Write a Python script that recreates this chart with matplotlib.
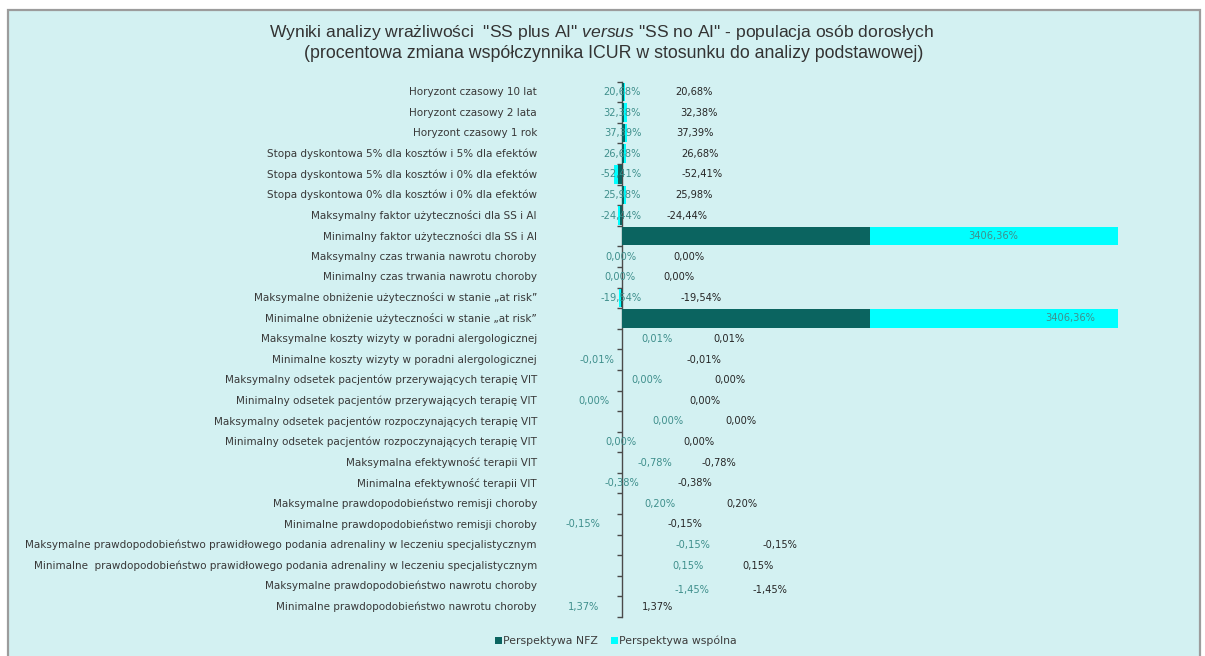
import numpy as np
import matplotlib
matplotlib.use("Agg")
import matplotlib.pyplot as plt
from matplotlib.patches import Rectangle, Patch
from matplotlib import font_manager

categories = [
    "Horyzont czasowy 10 lat",
    "Horyzont czasowy 2 lata",
    "Horyzont czasowy 1 rok",
    "Stopa dyskontowa 5% dla kosztów i 5% dla efektów",
    "Stopa dyskontowa 5% dla kosztów i 0% dla efektów",
    "Stopa dyskontowa 0% dla kosztów i 0% dla efektów",
    "Maksymalny faktor użyteczności dla SS i AI",
    "Minimalny faktor użyteczności dla SS i AI",
    "Maksymalny czas trwania nawrotu choroby",
    "Minimalny czas trwania nawrotu choroby",
    "Maksymalne obniżenie użyteczności w stanie „at risk”",
    "Minimalne obniżenie użyteczności w stanie „at risk”",
    "Maksymalne koszty wizyty w poradni alergologicznej",
    "Minimalne koszty wizyty w poradni alergologicznej",
    "Maksymalny odsetek pacjentów przerywających terapię VIT",
    "Minimalny odsetek pacjentów przerywających terapię VIT",
    "Maksymalny odsetek pacjentów rozpoczynających terapię VIT",
    "Minimalny odsetek pacjentów rozpoczynających terapię VIT",
    "Maksymalna efektywność terapii VIT",
    "Minimalna efektywność terapii VIT",
    "Maksymalne prawdopodobieństwo remisji choroby",
    "Minimalne prawdopodobieństwo remisji choroby",
    "Maksymalne prawdopodobieństwo prawidłowego podania adrenaliny w leczeniu specjalistycznym",
    "Minimalne  prawdopodobieństwo prawidłowego podania adrenaliny w leczeniu specjalistycznym",
    "Maksymalne prawdopodobieństwo nawrotu choroby",
    "Minimalne prawdopodobieństwo nawrotu choroby",
]

nfz = [20.68, 32.38, 37.39, 26.68, -52.41, 25.98, -24.44, 3406.36, 0.00, 0.00,
       -19.54, 3406.36, 0.01, -0.01, 0.00, 0.00, 0.00, 0.00, -0.78, -0.38,
       0.20, -0.15, -0.15, 0.15, -1.45, 1.37]
wspolna = [20.68, 32.38, 37.39, 26.68, -52.41, 25.98, -24.44, 3406.36, 0.00, 0.00,
           -19.54, 3406.36, 0.01, -0.01, 0.00, 0.00, 0.00, 0.00, -0.78, -0.38,
           0.20, -0.15, -0.15, 0.15, -1.45, 1.37]

series_names = ["Perspektywa NFZ", "Perspektywa wspólna"]

title_line1 = 'Wyniki analizy wrażliwości  "SS plus AI" $\\mathit{versus}$ "SS no AI" - populacja osób dorosłych'
title_line2 = "(procentowa zmiana współczynnika ICUR w stosunku do analizy podstawowej)"

# Label centres, in pixels to the right of the zero line (None = label hidden)
wsp_label_dx = [0, 0, 1, 0, -1, 0, -1, 371, -1, -2, -1, 448, 35, -25, 25, -28,
                46, -1, 33, 0, 38, -39, 71, 66, 70, -39]
nfz_label_dx = [72, 77, 73, 78, 80, 72, 65, None, 67, 57, 79, None, 107, 82, 108, 83,
                119, 77, 97, 73, 120, 63, 158, 136, 148, 35]
label_dy = [0] * 24 + [-4, 0]

W, H = 1205, 656
BG = "#d3f1f2"
DARK = "#0b6460"
CYAN = "#00ffff"

available = {f.name for f in font_manager.fontManager.ttflist}
narrow = "Liberation Sans Narrow" if "Liberation Sans Narrow" in available else "Liberation Sans"
plt.rcParams["mathtext.fontset"] = "custom"
plt.rcParams["mathtext.it"] = f"{narrow}:italic"
plt.rcParams["mathtext.rm"] = narrow

fig = plt.figure(figsize=(W / 100, H / 100), dpi=100, facecolor="white")
fig.patches.append(Rectangle((8 / W, -0.02), (1200 - 8) / W, 1 - 10 / H + 0.02,
                             transform=fig.transFigure, facecolor=BG,
                             edgecolor="#9c9c9c", lw=1.6, zorder=-10))

xlim = (-1100, 7300)
scale = 248 / 3406.36           # pixels per data unit
ax_left_px = 622 + xlim[0] * scale
ax_width_px = (xlim[1] - xlim[0]) * scale
top_px, bot_px = 81.7, 617
ax = fig.add_axes([ax_left_px / W, 1 - bot_px / H, ax_width_px / W, (bot_px - top_px) / H])
ax.set_facecolor("none")

n = len(categories)
y = np.arange(n)
ax.barh(y, nfz, height=0.9, color=DARK, zorder=2, label=series_names[0])
ax.barh(y, wspolna, left=nfz, height=0.9, color=CYAN, zorder=2, label=series_names[1])

ax.set_xlim(*xlim)
ax.set_ylim(n - 0.5, -0.5)

for s in ("top", "right", "bottom"):
    ax.spines[s].set_visible(False)
ax.spines["left"].set_position(("data", 0))
ax.spines["left"].set_color("#4a4a4a")
ax.spines["left"].set_linewidth(1.0)
ax.spines["left"].set_zorder(1)
ax.set_xticks([])
ax.set_yticks(np.arange(n + 1) - 0.5)
ax.set_yticklabels([])
ax.tick_params(axis="y", direction="out", length=3.6, width=1.0, color="#4a4a4a")

def fmt(v):
    return f"{v:.2f}".replace(".", ",").replace("-0,00", "0,00") + "%"

cat_font = dict(family="DejaVu Sans", fontsize=7.5)
val_font = dict(family="DejaVu Sans", fontsize=7.1)
ytr = ax.get_yaxis_transform()
for i, cat in enumerate(categories):
    ax.annotate(cat, xy=(0, i), xycoords=ytr, xytext=(-5, 0), textcoords="offset pixels",
                ha="right", va="center", color="#383838", **cat_font)

for i in range(n):
    if wsp_label_dx[i] is not None:
        ax.annotate(fmt(wspolna[i]), xy=(0, i), xytext=(wsp_label_dx[i], label_dy[i]),
                    textcoords="offset pixels", ha="center", va="center",
                    color="#3f8f8c", zorder=3, **val_font)
    if nfz_label_dx[i] is not None:
        ax.annotate(fmt(nfz[i]), xy=(0, i), xytext=(nfz_label_dx[i], label_dy[i]),
                    textcoords="offset pixels", ha="center", va="center",
                    color="#262626", zorder=3, **val_font)

fig.text(601 / W, 1 - 32 / H, title_line1, ha="center", va="center",
         fontsize=12.6, family=[narrow, "DejaVu Sans"], color="#333333")
fig.text(614 / W, 1 - 54 / H, title_line2, ha="center", va="center",
         fontsize=12.8, family=[narrow, "DejaVu Sans"], color="#333333")

handles = [Patch(facecolor=DARK), Patch(facecolor=CYAN)]
fig.legend(handles, series_names, loc="center", bbox_to_anchor=(616 / W, 1 - 641 / H),
           ncol=2, frameon=False, prop=dict(family="DejaVu Sans", size=7.8),
           handlelength=0.6, handleheight=0.6, handletextpad=0.15, columnspacing=1.2,
           labelcolor="#3c3c3c")

fig.savefig("out.png", dpi=100, facecolor="white")
